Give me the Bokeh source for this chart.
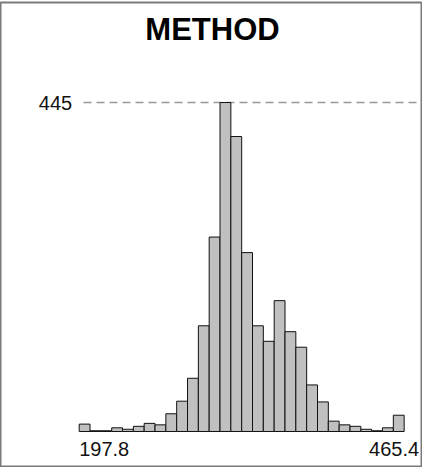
import numpy as np
from bokeh.plotting import figure
from bokeh.models import ColumnDataSource
from bokeh.core.properties import value
from bokeh.embed import file_html
from bokeh.resources import INLINE

title_text = "METHOD"
bin_start = 197.8
bin_end = 465.4
counts = [10, 1, 1, 5, 3, 7, 11, 9, 24, 41, 72, 143, 263, 445, 399,
          242, 143, 122, 177, 135, 114, 63, 40, 14, 9, 7, 3, 1, 5, 22]
tick_labels = ["197.8", "465.4"]

edges = np.linspace(bin_start, bin_end, len(counts) + 1)
peak = max(counts)

src = ColumnDataSource(dict(left=edges[:-1], right=edges[1:], top=counts,
                            bottom=[0] * len(counts)))

x_start, x_end = 133.0, 480.5
y_start, y_end = -48.7, 580.3

p = figure(width=422, height=467, output_backend="svg", toolbar_location=None,
           x_range=(x_start, x_end), y_range=(y_start, y_end),
           x_axis_type=None, y_axis_type=None,
           min_border=0, min_border_top=2)
p.xgrid.visible = False
p.ygrid.visible = False
p.outline_line_color = "#7a7a7a"
p.outline_line_width = 2
p.background_fill_color = "white"
p.border_fill_color = "white"

# reference line at the peak
p.segment(x0=[bin_start + (edges[1] - edges[0]) * 0.4], y0=[peak], x1=[x_end], y1=[peak],
          line_color="#999999", line_width=1.3, line_dash="8 5")

p.quad(left="left", right="right", top="top", bottom="bottom", source=src,
       fill_color="#c0c0c0", line_color="#111111", line_width=1)

font = value("Liberation Sans")
p.text(x=[bin_start], y=[peak], text=[str(peak)], text_font=font,
       text_font_size="20px", text_color="#111111", text_align="right",
       text_baseline="alphabetic", x_offset=-7, y_offset=0)
p.text(x=[bin_start], y=[0], text=[tick_labels[0]], text_font=font,
       text_font_size="20px", text_color="#111111", text_align="left",
       text_baseline="alphabetic", x_offset=0, y_offset=18)
p.text(x=[bin_end], y=[0], text=[tick_labels[1]], text_font=font,
       text_font_size="20px", text_color="#111111", text_align="right",
       text_baseline="alphabetic", x_offset=15, y_offset=18)
p.text(x=[(x_start + x_end) / 2], y=[y_end], text=[title_text], text_font=font,
       text_font_size="31px", text_font_style="bold", text_color="black",
       text_align="center", text_baseline="alphabetic", x_offset=1, y_offset=27)

open("out.html", "w").write(file_html(p, INLINE))
